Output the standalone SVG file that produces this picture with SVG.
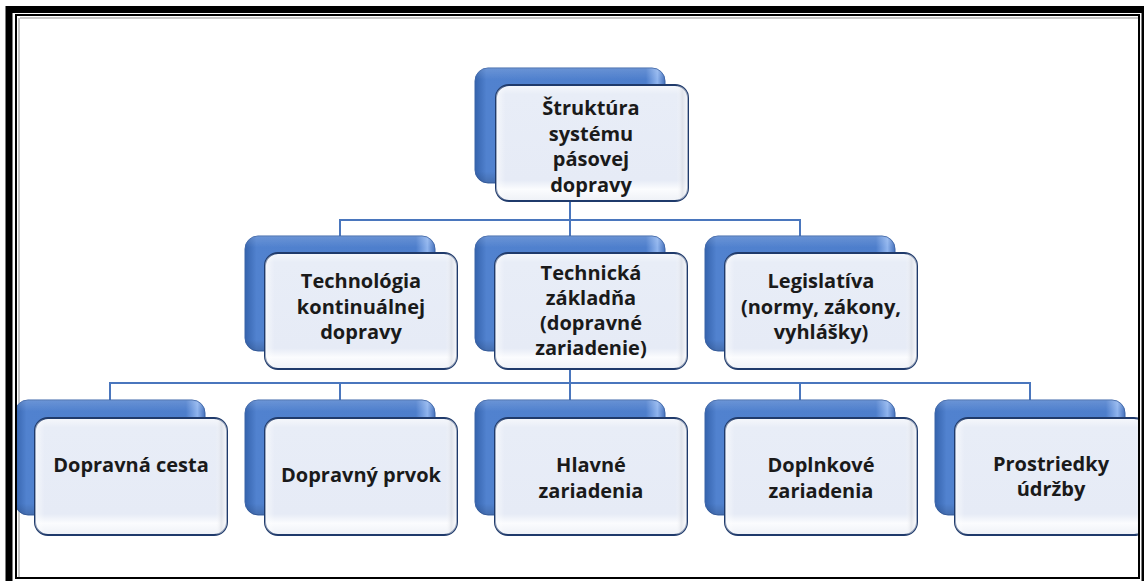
<svg xmlns="http://www.w3.org/2000/svg" width="1144" height="581" viewBox="0 0 1144 581">
<defs>
  <linearGradient id="backH" x1="0" y1="0" x2="1" y2="0">
    <stop offset="0" stop-color="#3563ad"/>
    <stop offset="0.06" stop-color="#5182cf"/>
    <stop offset="0.9" stop-color="#4d7ecc"/>
    <stop offset="0.96" stop-color="#8fb4ee"/>
    <stop offset="1" stop-color="#4672bd"/>
  </linearGradient>
  <linearGradient id="backV" x1="0" y1="0" x2="0" y2="1">
    <stop offset="0" stop-color="#ffffff" stop-opacity="0.15"/>
    <stop offset="0.1" stop-color="#ffffff" stop-opacity="0"/>
    <stop offset="0.9" stop-color="#000000" stop-opacity="0"/>
    <stop offset="1" stop-color="#000000" stop-opacity="0.15"/>
  </linearGradient>
  <linearGradient id="frontV" x1="0" y1="0" x2="0" y2="1">
    <stop offset="0" stop-color="#f6f8fc"/>
    <stop offset="0.08" stop-color="#e8edf7"/>
    <stop offset="0.82" stop-color="#e6ebf6"/>
    <stop offset="0.9" stop-color="#fbfcfe"/>
    <stop offset="1" stop-color="#eef1f7"/>
  </linearGradient>
  <linearGradient id="frontH" x1="0" y1="0" x2="1" y2="0">
    <stop offset="0" stop-color="#ffffff" stop-opacity="0.6"/>
    <stop offset="0.05" stop-color="#ffffff" stop-opacity="0"/>
    <stop offset="0.94" stop-color="#ffffff" stop-opacity="0"/>
    <stop offset="0.97" stop-color="#d8dbe2" stop-opacity="0.6"/>
    <stop offset="1" stop-color="#ffffff" stop-opacity="0.6"/>
  </linearGradient>
  <clipPath id="inner"><rect x="17" y="16" width="1121" height="561"/></clipPath>
  <style>
    .back { fill: url(#backH); stroke: #3b64a8; stroke-width: 1; }
    .backsh { fill: url(#backV); }
    .front { fill: url(#frontV); stroke: #1f3a6b; stroke-width: 2; }
    .fronth { fill: url(#frontH); }
    .conn { fill: none; stroke: #4a76bd; stroke-width: 2; }
    .lbl { font-family: "Open Sans", "Liberation Sans", sans-serif; font-weight: 700; font-size: 20px; fill: #1a1a1a; text-anchor: middle; }
  </style>
</defs>
<rect x="0" y="0" width="1144" height="581" fill="#ffffff"/>
<g clip-path="url(#inner)">
  <line x1="20" y1="18" x2="1138" y2="18" stroke="#c8c8c8" stroke-width="2"/>
  <line x1="19" y1="18" x2="19" y2="577" stroke="#c8c8c8" stroke-width="2"/>
  <g id="connectors">
    <path class="conn" d="M570,200 V236 M340,236 V220 H800 V236"/>
    <path class="conn" d="M570,369 V400 M110,400 V383 H1030 V400 M340,383 V400 M800,383 V400"/>
  </g>
  <g id="n-root">
    <rect class="back" x="475" y="68" width="190" height="115" rx="13"/>
    <rect class="backsh" x="475" y="68" width="190" height="115" rx="13"/>
    <rect class="front" x="496" y="85" width="192" height="116" rx="13"/>
    <rect class="fronth" x="496" y="85" width="192" height="116" rx="13"/>
    <text class="lbl" x="591"><tspan x="591" y="115">Štruktúra</tspan><tspan x="591" y="140.5">systému</tspan><tspan x="591" y="166">pásovej</tspan><tspan x="591" y="191.5">dopravy</tspan></text>
  </g>
  <g id="n-technologia">
    <rect class="back" x="245" y="236" width="190" height="115" rx="13"/>
    <rect class="backsh" x="245" y="236" width="190" height="115" rx="13"/>
    <rect class="front" x="265" y="253" width="192" height="116" rx="13"/>
    <rect class="fronth" x="265" y="253" width="192" height="116" rx="13"/>
    <text class="lbl"><tspan x="361" y="288">Technológia</tspan><tspan x="361" y="313.5">kontinuálnej</tspan><tspan x="361" y="339">dopravy</tspan></text>
  </g>
  <g id="n-technicka">
    <rect class="back" x="475" y="236" width="190" height="115" rx="13"/>
    <rect class="backsh" x="475" y="236" width="190" height="115" rx="13"/>
    <rect class="front" x="495" y="253" width="192" height="116" rx="13"/>
    <rect class="fronth" x="495" y="253" width="192" height="116" rx="13"/>
    <text class="lbl"><tspan x="591" y="280">Technická</tspan><tspan x="591" y="305">základňa</tspan><tspan x="591" y="330">(dopravné</tspan><tspan x="591" y="355">zariadenie)</tspan></text>
  </g>
  <g id="n-legislativa">
    <rect class="back" x="705" y="236" width="190" height="115" rx="13"/>
    <rect class="backsh" x="705" y="236" width="190" height="115" rx="13"/>
    <rect class="front" x="725" y="253" width="192" height="116" rx="13"/>
    <rect class="fronth" x="725" y="253" width="192" height="116" rx="13"/>
    <text class="lbl"><tspan x="821" y="288">Legislatíva</tspan><tspan x="821" y="313.5">(normy, zákony,</tspan><tspan x="821" y="339">vyhlášky)</tspan></text>
  </g>
  <g id="n-cesta">
    <rect class="back" x="15" y="400" width="190" height="115" rx="13"/>
    <rect class="backsh" x="15" y="400" width="190" height="115" rx="13"/>
    <rect class="front" x="35" y="418" width="192" height="117" rx="13"/>
    <rect class="fronth" x="35" y="418" width="192" height="117" rx="13"/>
    <text class="lbl" x="131" y="472">Dopravná cesta</text>
  </g>
  <g id="n-prvok">
    <rect class="back" x="245" y="400" width="190" height="115" rx="13"/>
    <rect class="backsh" x="245" y="400" width="190" height="115" rx="13"/>
    <rect class="front" x="265" y="418" width="192" height="117" rx="13"/>
    <rect class="fronth" x="265" y="418" width="192" height="117" rx="13"/>
    <text class="lbl" x="361" y="482">Dopravný prvok</text>
  </g>
  <g id="n-hlavne">
    <rect class="back" x="475" y="400" width="190" height="115" rx="13"/>
    <rect class="backsh" x="475" y="400" width="190" height="115" rx="13"/>
    <rect class="front" x="495" y="418" width="192" height="117" rx="13"/>
    <rect class="fronth" x="495" y="418" width="192" height="117" rx="13"/>
    <text class="lbl"><tspan x="591" y="472">Hlavné</tspan><tspan x="591" y="497.5">zariadenia</tspan></text>
  </g>
  <g id="n-doplnkove">
    <rect class="back" x="705" y="400" width="190" height="115" rx="13"/>
    <rect class="backsh" x="705" y="400" width="190" height="115" rx="13"/>
    <rect class="front" x="725" y="418" width="192" height="117" rx="13"/>
    <rect class="fronth" x="725" y="418" width="192" height="117" rx="13"/>
    <text class="lbl"><tspan x="821" y="472">Doplnkové</tspan><tspan x="821" y="497.5">zariadenia</tspan></text>
  </g>
  <g id="n-prostriedky">
    <rect class="back" x="935" y="400" width="190" height="115" rx="13"/>
    <rect class="backsh" x="935" y="400" width="190" height="115" rx="13"/>
    <rect class="front" x="955" y="418" width="192" height="117" rx="13"/>
    <rect class="fronth" x="955" y="418" width="192" height="117" rx="13"/>
    <text class="lbl"><tspan x="1051" y="471">Prostriedky</tspan><tspan x="1051" y="496">údržby</tspan></text>
  </g>
</g>
<g id="frame" fill="none" stroke="#000000">
  <rect x="9" y="9.5" width="1136" height="590" stroke-width="7"/>
  <rect x="16" y="15" width="1123" height="563" stroke-width="2"/>
</g>
</svg>
